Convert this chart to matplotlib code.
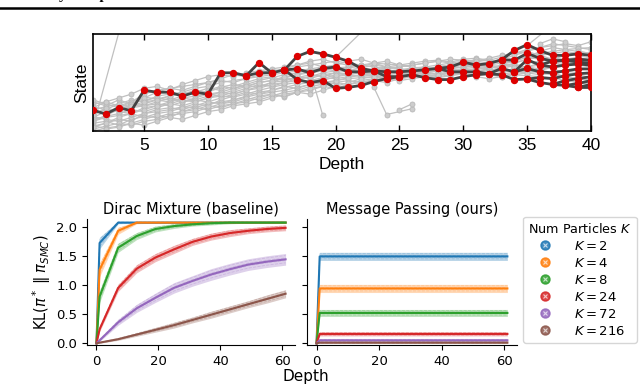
import matplotlib
matplotlib.use("Agg")
import matplotlib.pyplot as plt
from matplotlib.lines import Line2D
import numpy as np

# ---------------- top panel data (state in % of panel height) ----------------
depth = list(range(1, 41))

grey_paths = [
    [5, 8, 12, 10, 18, 20, 22, 25, 24, 28, 30, 32, 35, 38, 40, 42, 45, 48, 50, 52, 54, 55, 56, 58, 57, 58, 60, 62, 61, 63, 64, 66, 65, 67, 70, 72, 75, 74, 76, 78],
    [28, 30, 26, 30, 35, 33, 36, 38, 42, 40, 45, 48, 46, 50, 52, 55, 53, 56, 60, 62, 63, 61, 64, 62, 63, 65, 66, 64, 67, 68, 70, 69, 72, 74, 78, 80, 82, 84, 85, 86],
    [12, 15, 18, 22, 20, 24, 28, 26, 30, 34, 36, 35, 38, 42, 45, 48, 50, 52, 55, 54, 56, 58, 57, 55, 54, 56, 58, 60, 59, 60, 62, 63, 60, 58, 57, 56, 55, 52, 50, 50],
    [20, 18, 22, 25, 28, 32, 30, 34, 36, 38, 40, 44, 47, 45, 50, 55, 58, 60, 62, 65, 66, 68, 70, 69, 68, 70, 72, 73, 71, 74, 75, 73, 76, 80, 84, 86, 88, 90, 88, 92],
    [8, 10, 6, 12, 15, 14, 18, 20, 24, 22, 26, 28, 32, 36, 38, 35, 40, 42, 46, 50, 52, 50, 53, 54, 56, 57, 55, 58, 60, 62, 60, 61, 63, 62, 60, 58, 60, 62, 60, 58],
    [25, 22, 28, 32, 30, 36, 38, 40, 37, 42, 46, 44, 48, 52, 55, 58, 60, 63, 64, 62, 66, 64, 62, 65, 66, 68, 70, 72, 74, 73, 72, 74, 70, 68, 66, 64, 66, 68, 70, 72],
    [15, 12, 10, 14, 18, 22, 24, 22, 26, 30, 28, 32, 36, 40, 42, 46, 44, 48, 52, 56, 58, 60, 58, 60, 62, 60, 62, 64, 66, 65, 68, 70, 72, 75, 76, 74, 72, 70, 68, 66],
    [2, 5, 8, 6, 10, 12, 16, 18, 20, 24, 28, 30, 34, 32, 36, 40, 42, 46, 48, 50, 48, 52, 54, 56, 58, 60, 58, 57, 60, 62, 64, 65, 68, 66, 64, 62, 60, 56, 54, 52],
    [30, 26, 32, 28, 32, 34, 32, 36, 40, 44, 42, 46, 50, 54, 56, 52, 55, 58, 56, 60, 62, 65, 68, 66, 64, 62, 60, 63, 65, 68, 66, 64, 62, 60, 62, 64, 66, 70, 74, 76],
    [18, 22, 20, 18, 24, 26, 30, 34, 32, 36, 40, 38, 42, 46, 50, 52, 56, 54, 58, 60, 58, 56, 58, 60, 62, 64, 66, 68, 70, 72, 70, 68, 66, 70, 74, 78, 80, 82, 80, 78],
    [10, 14, 16, 18, 14, 18, 20, 24, 28, 26, 32, 36, 40, 38, 42, 45, 48, 50, 48, 52, 55, 58, 60, 62, 60, 58, 56, 55, 57, 59, 58, 60, 62, 64, 66, 68, 64, 60, 58, 55],
    [22, 25, 28, 24, 26, 30, 34, 30, 34, 38, 36, 40, 44, 48, 46, 50, 54, 56, 58, 56, 60, 62, 64, 66, 68, 66, 64, 66, 68, 70, 72, 75, 78, 80, 82, 78, 74, 72, 70, 68],
    [0, 3, 5, 8, 12, 16, 14, 20, 22, 26, 24, 28, 30, 34, 38, 36, 40, 44, 46, 44, 48, 50, 52, 50, 54, 56, 58, 56, 58, 60, 62, 64, 62, 64, 66, 70, 72, 70, 72, 74],
    [32, 28, 24, 30, 38, 42, 44, 46, 48, 50, 52, 50, 54, 58, 60, 62, 66, 68, 70, 72, 70, 68, 66, 64, 66, 68, 70, 72, 70, 68, 66, 68, 70, 72, 76, 82, 86, 84, 82, 80],
    [14, 20, 24, 28, 26, 28, 26, 30, 32, 30, 34, 38, 42, 44, 48, 50, 52, 50, 54, 58, 60, 62, 60, 58, 56, 58, 62, 66, 68, 70, 74, 72, 70, 66, 62, 60, 58, 56, 54, 52],
    [6, 2, 4, 8, 6, 10, 14, 12, 16, 20, 22, 26, 28, 30, 34, 38, 40, 38, 42, 46, 50, 54, 56, 58, 60, 62, 60, 62, 64, 66, 68, 66, 64, 62, 60, 64, 68, 72, 76, 80],
    [24, 30, 34, 38, 44, 46, 42, 48, 52, 56, 58, 56, 60, 62, 64, 66, 68, 72, 74, 70, 68, 66, 70, 72, 68, 66, 64, 66, 68, 70, 72, 70, 74, 78, 82, 86, 90, 88, 86, 84],
    [16, 24, 20, 28, 34, 40, 44, 42, 46, 50, 54, 58, 56, 60, 62, 64, 68, 70, 66, 68, 72, 74, 70, 66, 64, 62, 60, 58, 62, 64, 66, 70, 72, 70, 74, 76, 74, 78, 82, 80],
    [10, 16, 22, 26, 30, 32, 36, 40, 44, 46, 50, 52, 54, 56, 58, 60, 62, 64, 66, 64, 62, 60, 62, 64, 60, 58, 60, 62, 64, 62, 60, 58, 56, 60, 64, 62, 58, 54, 50, 48],
    [4, 8, 14, 18, 22, 26, 28, 32, 30, 34, 38, 42, 46, 50, 52, 56, 58, 62, 64, 66, 64, 60, 56, 54, 52, 54, 56, 58, 60, 58, 56, 54, 56, 58, 60, 62, 66, 70, 72, 74],
]

# stray grey particles: (depths, states)
grey_strays = [
    ([1, 3.2], [4, 110]),
    ([18, 19], [62, 16]),
    ([20, 22.5], [76, 108]),
    ([23, 24, 26], [45, 17, 23]),
    ([25, 26], [22, 28]),
    ([35, 36.5], [88, 104]),
    ([36, 37, 38], [90, 95, 92]),
]

# surviving lineages: (start depth, states)
tree_branches = [
    (1, [21.5, 17.5, 24, 21, 42, 40, 40, 36, 40, 38, 60, 60, 57, 70.5, 60, 63]),
    (13, [57, 60, 60]),
    (16, [63, 77, 82, 79.5, 76, 72, 64.5, 62, 61, 61, 62, 63, 64.5, 66, 71, 68, 69.5, 73.5, 83, 89, 83, 78, 78, 79.5, 78]),
    (33, [73.5, 73, 80, 75, 72, 73, 74, 73]),
    (28, [64.5, 61, 61, 61, 59, 64.5, 61, 73.5, 68, 66, 68, 69, 68]),
    (16, [63, 64, 60, 64.5, 66, 61, 61, 62, 56, 56, 58, 55, 53, 53, 56, 58, 59, 58, 53, 53.6, 55, 54, 57, 59, 60]),
    (16, [63, 53, 50, 52, 44, 45, 47, 51, 54, 56]),
    (34, [61, 64.5, 61, 60, 62, 64, 64]),
    (35, [53.6, 50, 48, 52, 54, 56]),
    (37, [48, 47, 49, 52]),
    (38, [47, 45, 48]),
    (39, [45, 45]),
    (36, [68, 72, 73, 71, 70]),
]

# ---------------- bottom panels data ----------------
kl_depth = [0, 1, 7, 13, 19, 25, 31, 37, 43, 49, 55, 61]
k_labels = ["$K = 2$", "$K = 4$", "$K = 8$", "$K = 24$", "$K = 72$", "$K = 216$"]
k_colors = ["#1f77b4", "#ff7f0e", "#2ca02c", "#d62728", "#9467bd", "#8c564b"]

dirac_mean = [
    [0, 1.72, 2.07, 2.07, 2.07, 2.07, 2.07, 2.07, 2.07, 2.07, 2.07, 2.07],
    [0, 1.26, 1.93, 2.07, 2.07, 2.07, 2.07, 2.07, 2.07, 2.07, 2.07, 2.07],
    [0, 0.80, 1.64, 1.84, 1.96, 2.01, 2.04, 2.06, 2.07, 2.07, 2.07, 2.07],
    [0, 0.24, 0.95, 1.28, 1.47, 1.61, 1.74, 1.83, 1.89, 1.93, 1.96, 1.98],
    [0, 0.05, 0.36, 0.60, 0.78, 0.95, 1.07, 1.18, 1.27, 1.35, 1.40, 1.44],
    [0, 0.01, 0.07, 0.15, 0.23, 0.31, 0.40, 0.49, 0.58, 0.67, 0.76, 0.85],
]
dirac_spread = [
    [0, 0.10, 0.02, 0.01, 0.01, 0.01, 0.01, 0.01, 0.01, 0.01, 0.01, 0.01],
    [0, 0.12, 0.06, 0.02, 0.01, 0.01, 0.01, 0.01, 0.01, 0.01, 0.01, 0.01],
    [0, 0.10, 0.08, 0.06, 0.05, 0.04, 0.03, 0.03, 0.02, 0.01, 0.01, 0.01],
    [0, 0.04, 0.06, 0.07, 0.07, 0.07, 0.06, 0.06, 0.06, 0.05, 0.05, 0.05],
    [0, 0.02, 0.05, 0.07, 0.08, 0.09, 0.09, 0.10, 0.10, 0.10, 0.10, 0.10],
    [0, 0.01, 0.02, 0.03, 0.04, 0.05, 0.05, 0.06, 0.06, 0.06, 0.07, 0.07],
]
mp_level = [1.49, 0.94, 0.52, 0.16, 0.05, 0.01]
mp_spread = [0.07, 0.07, 0.06, 0.035, 0.025, 0.015]
run_offsets = [-0.6, -0.2, 0.25, 0.65]

# ---------------- figure ----------------
fig = plt.figure(figsize=(6.4, 3.85), dpi=100)

# heading of the page, mostly above the crop, and the rule under it
fig.text(0.012, 1.0 + 1.5 / 385, "Ancestry Samples", fontsize=11, fontweight="bold",
         family="Liberation Serif", va="baseline", ha="left")
fig.add_artist(Line2D([0, 1], [0.978, 0.978], color="black", lw=1.8))

ax = fig.add_axes([0.1453, 0.6597, 0.778, 0.252])
for path in grey_paths:
    ax.plot(depth, path, color="#c0c0c0", lw=0.9, marker="o", ms=3.6,
            mfc="#cdcdcd", mec="#b8b8b8", mew=0.6, zorder=1)
for xs, ys in grey_strays:
    ax.plot(xs, ys, color="#c0c0c0", lw=0.9, marker="o", ms=3.6,
            mfc="#cdcdcd", mec="#b8b8b8", mew=0.6, zorder=1)
for start, states in tree_branches:
    xs = list(range(start, start + len(states)))
    ax.plot(xs, states, color="#444444", lw=2.0, zorder=2)
for start, states in tree_branches:
    xs = list(range(start, start + len(states)))
    ax.plot(xs, states, ls="none", marker="o", ms=4.3, color="#dd0000", zorder=3)
ax.set_xlim(1, 40)
ax.set_ylim(0, 100)
ax.set_xticks([5, 10, 15, 20, 25, 30, 35, 40])
ax.set_yticks([])
ax.tick_params(axis="x", direction="in", top=True, length=4, width=1,
               labelsize=12.5, pad=5)
for lab in ax.get_xticklabels():
    lab.set_family("Liberation Sans")
for sp in ax.spines.values():
    sp.set_linewidth(1.2)
ax.set_xlabel("Depth", fontsize=12.5, family="Liberation Sans", labelpad=3)
ax.set_ylabel("State", fontsize=12.5, family="Liberation Sans", labelpad=3)

# bottom panels
ax1 = fig.add_axes([0.136, 0.1039, 0.325, 0.327])
ax2 = fig.add_axes([0.4797, 0.1039, 0.328, 0.327], sharey=ax1)

for i in range(len(k_labels)):
    m = np.array(dirac_mean[i])
    s = np.array(dirac_spread[i])
    ax1.fill_between(kl_depth, m - s, m + s, color=k_colors[i], alpha=0.3, lw=0)
    for o in run_offsets:
        ax1.plot(kl_depth, m + o * s, color=k_colors[i], alpha=0.25, lw=0.6, ls="--")
    ax1.plot(kl_depth, m, color=k_colors[i], lw=1.5)

    mm = np.array([0] + [mp_level[i]] * (len(kl_depth) - 1))
    ss = np.array([0] + [mp_spread[i]] * (len(kl_depth) - 1))
    ax2.fill_between(kl_depth, mm - ss, mm + ss, color=k_colors[i], alpha=0.3, lw=0)
    for o in run_offsets:
        ax2.plot(kl_depth, mm + o * ss, color=k_colors[i], alpha=0.25, lw=0.6, ls="--")
    ax2.plot(kl_depth, mm, color=k_colors[i], lw=1.5)

for a in (ax1, ax2):
    a.spines["top"].set_visible(False)
    a.spines["right"].set_visible(False)
    a.set_xticks([0, 20, 40, 60])
    a.tick_params(labelsize=9.5, length=3.5)
ax1.set_ylim(-0.03, 2.13)
ax1.set_yticks([0.0, 0.5, 1.0, 1.5, 2.0])
ax2.tick_params(labelleft=False)
ax1.set_title("Dirac Mixture (baseline)", fontsize=10.5, pad=4)
ax2.set_title("Message Passing (ours)", fontsize=10.5, pad=4)
ax1.set_ylabel(r"KL($\pi^*\;\|\;\pi_{SMC}$)", fontsize=10.5, labelpad=2)
fig.text(306 / 640, 1 - 376 / 385, "Depth", ha="center", va="center", fontsize=11)

handles = []
for c in k_colors:
    h1 = Line2D([], [], ls="none", marker="o", ms=6.5, mfc=c, mec=c, alpha=0.85)
    h2 = Line2D([], [], ls="none", marker="x", ms=3, mec="white", mew=0.8, alpha=0.7)
    handles.append((h1, h2))
leg = fig.legend(handles, k_labels, title="Num Particles $K$", loc="upper left",
                 bbox_to_anchor=(0.817, 0.437), borderaxespad=0, fontsize=9.5,
                 title_fontsize=9.2, handletextpad=1.4, handlelength=1.6,
                 labelspacing=0.3, borderpad=0.4, fancybox=True)
leg.get_frame().set_edgecolor("#cccccc")

fig.savefig("out.png", dpi=100)
